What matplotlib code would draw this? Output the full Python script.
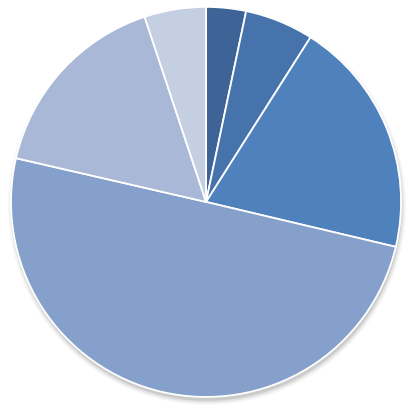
import matplotlib
matplotlib.use("Agg")
import matplotlib.pyplot as plt
from matplotlib.patches import Circle

# slice shares, clockwise from 12 o'clock
shares = [3.3, 5.7, 19.7, 49.9, 16.3, 5.1]
colors = ["#3E6497", "#4673AC", "#4F81BD", "#85A0CB", "#A8B8D6", "#C5CFE2"]

fig = plt.figure(figsize=(4.11, 4.12), dpi=100)
ax = fig.add_axes([0.0268, 0.0364, 0.949, 0.947])

# soft drop shadow under the pie, mostly towards the bottom
for i, a in enumerate([0.04, 0.07, 0.10]):
    ax.add_patch(Circle((0.005, -0.02), 1.0 + 0.01 * (2 - i), color="#000000",
                        alpha=a, lw=0, zorder=0, clip_on=False))

ax.pie(shares, colors=colors, startangle=90, counterclock=False,
       wedgeprops=dict(edgecolor="white", linewidth=1.3))

ax.set_xlim(-1.0, 1.0)
ax.set_ylim(-1.0, 1.0)
ax.set_aspect("equal")
ax.axis("off")

fig.savefig("out.png", dpi=100)
